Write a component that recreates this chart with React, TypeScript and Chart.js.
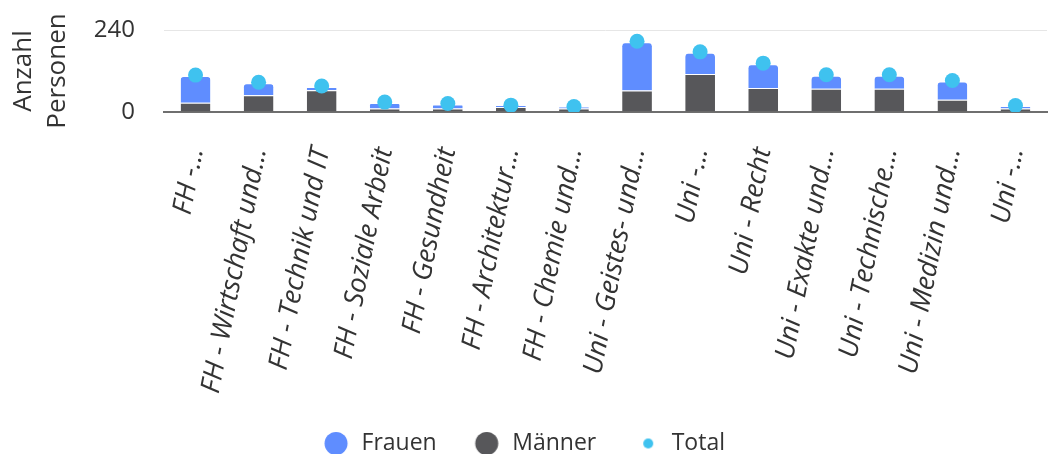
import React, { useEffect, useRef } from "react";
import { Chart, registerables } from "chart.js";

Chart.register(...registerables);

const categories = [
  "FH -...",
  "FH - Wirtschaft und...",
  "FH - Technik und IT",
  "FH - Soziale Arbeit",
  "FH - Gesundheit",
  "FH - Architektur...",
  "FH - Chemie und...",
  "Uni - Geistes- und...",
  "Uni -...",
  "Uni - Recht",
  "Uni - Exakte und...",
  "Uni - Technische...",
  "Uni - Medizin und...",
  "Uni -...",
];

const frauen = [81, 38, 12, 19, 15, 5, 6, 144, 65, 73, 41, 41, 56, 9];
const maenner = [27, 49, 64, 10, 10, 15, 10, 63, 111, 70, 68, 68, 36, 10];
const total = [108, 87, 76, 29, 25, 20, 16, 207, 176, 143, 109, 109, 92, 19];

const yTickValues = [0, 240];
const yTitle = ["Anzahl", "Personen"];

const BLUE = "#5f8dff";
const GREY = "#57575a";
const CYAN = "#3fc2ef";
const TEXT = "#333333";
const FONT = "'Open Sans', sans-serif";

function dotImage(color: string, r: number, w: number, dx: number) {
  const c = document.createElement("canvas");
  const h = Math.ceil(2 * r + 2);
  c.width = w;
  c.height = h;
  const g = c.getContext("2d")!;
  g.fillStyle = color;
  g.beginPath();
  g.arc(w / 2 + dx, h / 2, r, 0, Math.PI * 2);
  g.fill();
  return c;
}

export default function App() {
  const ref = useRef<HTMLCanvasElement>(null);

  useEffect(() => {
    const canvas = ref.current;
    if (!canvas) return;
    const imgF = dotImage(BLUE, 11.5, 26, 0);
    const imgM = dotImage(GREY, 11.5, 26, 0);
    const imgT = dotImage(CYAN, 5, 26, 2);

    const chart = new Chart(canvas, {
      type: "bar",
      data: {
        labels: categories,
        datasets: [
          {
            type: "line",
            label: "Total",
            data: total,
            showLine: false,
            pointRadius: 7.5,
            pointHoverRadius: 7.5,
            pointBorderWidth: 0,
            pointBackgroundColor: CYAN,
            backgroundColor: CYAN,
            borderColor: CYAN,
            order: -1,
            stack: "total",
          } as any,
          {
            label: "Männer",
            data: maenner,
            backgroundColor: GREY,
            borderColor: "#ffffff",
            borderWidth: { top: 1, left: 0, right: 0, bottom: 0 },
            borderSkipped: "start",
            borderRadius: 0,
            stack: "s",
            categoryPercentage: 0.8,
            barPercentage: 0.59,
          },
          {
            label: "Frauen",
            data: frauen,
            backgroundColor: BLUE,
            borderColor: "#ffffff",
            borderWidth: { top: 2, left: 0, right: 0, bottom: 0 },
            borderSkipped: "start",
            borderRadius: { topLeft: 5, topRight: 5, bottomLeft: 0, bottomRight: 0 },
            stack: "s",
            categoryPercentage: 0.8,
            barPercentage: 0.59,
          },
        ],
      },
      options: {
        animation: false,
        responsive: false,
        layout: { padding: { top: 30, right: 8, left: 0, bottom: 0 } },
        scales: {
          x: {
            stacked: true,
            grid: { display: false, drawTicks: false },
            border: { display: true, color: "#6f6f6f", width: 2 },
            ticks: {
              autoSkip: false,
              minRotation: 79,
              maxRotation: 79,
              padding: 33,
              color: TEXT,
              font: { family: FONT, size: 27, style: "italic" },
            },
            afterFit: (s: any) => {
              s.height = 284;
              s.paddingRight = 0;
              s.paddingLeft = 0;
            },
          },
          y: {
            stacked: true,
            min: 0,
            max: 240,
            border: { display: false },
            grid: {
              drawTicks: false,
              color: (ctx: any) =>
                ctx.tick && ctx.tick.value === 0 ? "rgba(0,0,0,0)" : "#e6e6e6",
              lineWidth: 1,
            },
            afterBuildTicks: (s: any) => {
              s.ticks = yTickValues.map((v) => ({ value: v }));
            },
            ticks: {
              padding: 29,
              color: TEXT,
              font: { family: FONT, size: 24 },
            },
            title: {
              display: true,
              text: yTitle,
              color: TEXT,
              font: { family: FONT, size: 26, lineHeight: 1.3 },
              padding: { top: 7, bottom: 0 },
            },
            afterFit: (s: any) => {
              s.width = 164;
              s.paddingTop = 0;
              s.paddingBottom = 0;
            },
          },
        },
        plugins: {
          tooltip: { enabled: false },
          legend: {
            position: "bottom",
            labels: {
              usePointStyle: true,
              pointStyleWidth: 28,
              padding: 36,
              color: TEXT,
              font: { family: FONT, size: 23 },
              generateLabels: () => [
                { text: "Frauen", pointStyle: imgF as any, fillStyle: BLUE, strokeStyle: BLUE, lineWidth: 0, hidden: false, datasetIndex: 2, fontColor: TEXT },
                { text: "Männer", pointStyle: imgM as any, fillStyle: GREY, strokeStyle: GREY, lineWidth: 0, hidden: false, datasetIndex: 1, fontColor: TEXT },
                { text: "Total", pointStyle: imgT as any, fillStyle: CYAN, strokeStyle: CYAN, lineWidth: 0, hidden: false, datasetIndex: 0, fontColor: TEXT },
              ],
            },
          },
        },
      } as any,
    });
    return () => chart.destroy();
  }, []);

  return (
    <div
      style={{
        position: "fixed",
        left: 0,
        top: 0,
        width: 1055,
        height: 454,
        overflow: "hidden",
        background: "#ffffff",
      }}
    >
      <canvas ref={ref} width={1055} height={465} style={{ display: "block" }} />
    </div>
  );
}
